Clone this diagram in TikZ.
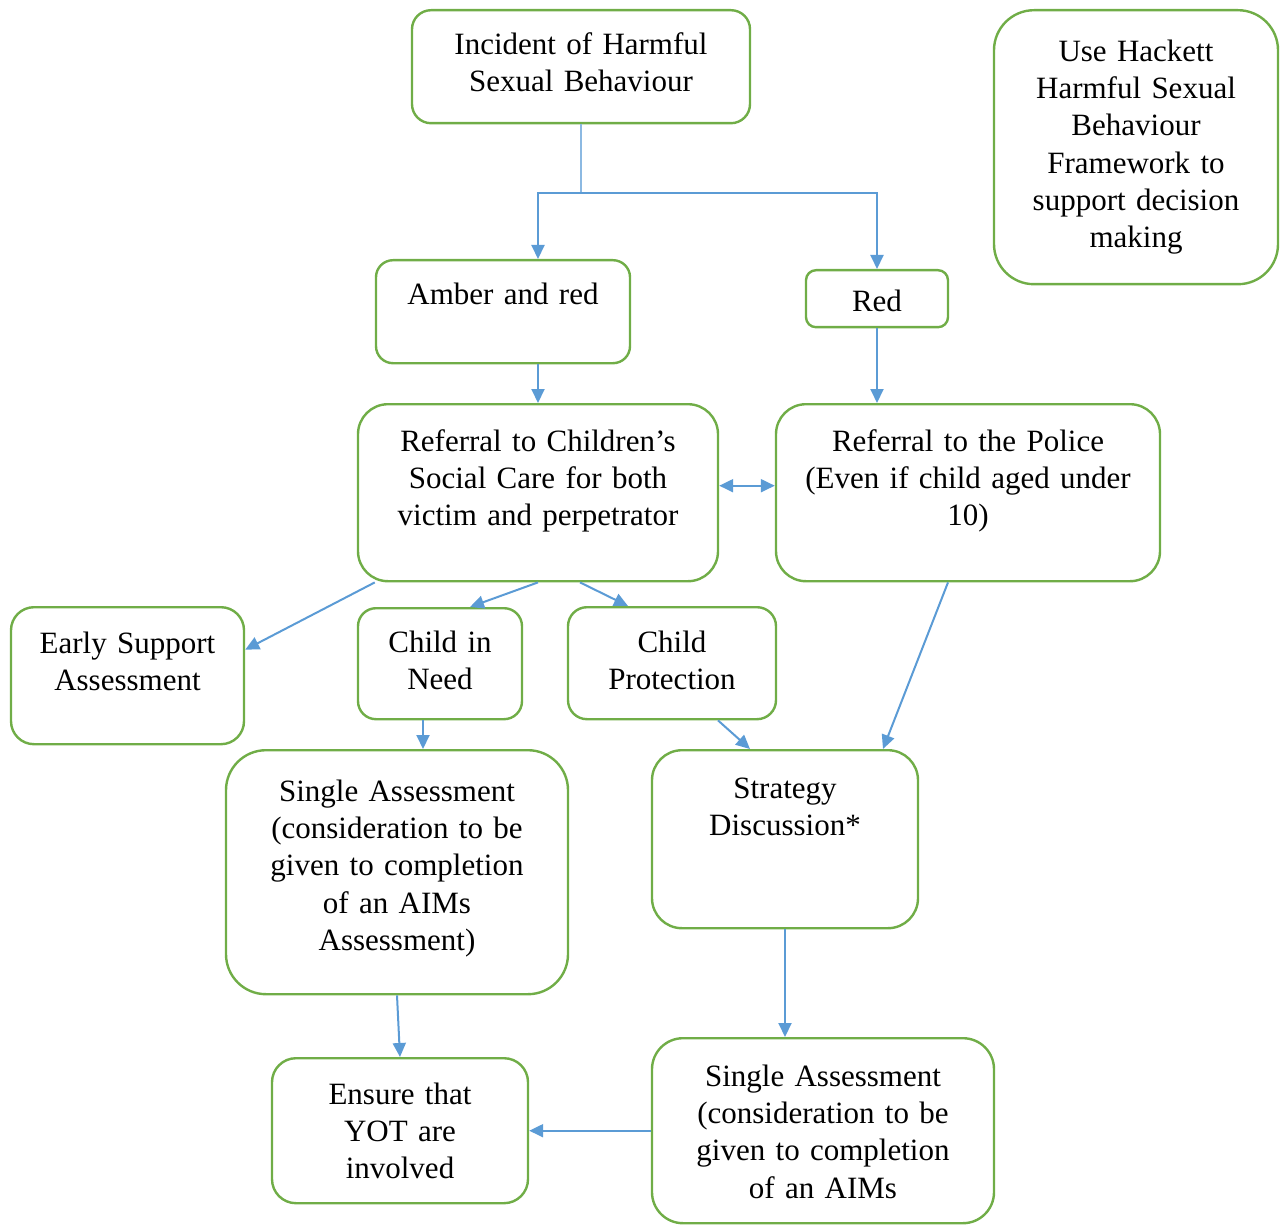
\documentclass[tikz,border=0pt]{standalone}
\usepackage{fontspec}
\setmainfont{Liberation Serif}
\usepackage{tikz}
\usetikzlibrary{arrows.meta,positioning,calc}
\usepackage{xcolor}
\definecolor{boxcolor}{RGB}{112,173,71}
\definecolor{linkcolor}{RGB}{91,155,213}

\begin{document}
\begin{tikzpicture}[
    x=0.5pt, y=-0.5pt,
    box/.style={draw=boxcolor, line width=1.2pt, inner sep=0pt, align=center, anchor=north, font=\fontsize{15.5}{18.65}\selectfont},
    arrow/.style={-{Triangle[length=7pt, width=6.5pt]}, draw=linkcolor, line width=1pt},
    link/.style={draw=linkcolor!70, line width=0.6pt}
]
\useasboundingbox (0,0) rectangle (1280,1225);

% Top row
\node[box, text width=169pt, text height=22pt, text depth=34.5pt, rounded corners=9.5pt] (incident) at (581,9) {Incident of Harmful\\Sexual Behaviour};
\node[box, text width=142pt, text height=25.5pt, text depth=111.5pt, rounded corners=20pt] (hackett) at (1136,9) {Use Hackett\\Harmful Sexual\\Behaviour\\Framework to\\support decision\\making};

% Grading
\node[box, text width=127pt, text height=22pt, text depth=29.5pt, rounded corners=8.5pt] (amber) at (503,259) {Amber and red};
\node[box, text width=71pt, text height=20.5pt, text depth=8pt, rounded corners=5pt] (red) at (877,269) {Red};

% Referrals
\node[box, text width=180pt, text height=23.5pt, text depth=65pt, rounded corners=15pt] (csc) at (538,403) {Referral to Children's\\Social Care for both\\victim and perpetrator};
\node[box, text width=192pt, text height=23.5pt, text depth=65pt, rounded corners=15pt] (police) at (968,403) {Referral to the Police\\(Even if child aged under\\10)};

% Outcomes
\node[box, text width=116.5pt, text height=23pt, text depth=45.5pt, rounded corners=11.5pt] (early) at (127.5,606) {Early Support\\Assessment};
\node[box, text width=82pt, text height=22pt, text depth=33.5pt, rounded corners=9pt] (cin) at (440,607) {Child in\\Need};
\node[box, text width=104pt, text height=22.5pt, text depth=33.5pt, rounded corners=9.5pt] (cp) at (672,606) {Child\\Protection};

% Assessments
\node[box, text width=171pt, text height=25.5pt, text depth=96.5pt, rounded corners=20pt] (sa1) at (397,749) {Single Assessment\\(consideration to be\\given to completion\\of an AIMs\\Assessment)};
\node[box, text width=133pt, text height=24pt, text depth=65pt, rounded corners=15pt] (strat) at (785,749) {Strategy\\Discussion*};
\node[box, text width=171pt, text height=24pt, text depth=68.5pt, rounded corners=15.5pt] (sa2) at (823,1037) {Single Assessment\\(consideration to be\\given to completion\\of an AIMs};
\node[box, text width=128pt, text height=23pt, text depth=49.5pt, rounded corners=12pt] (ensure) at (400,1057) {Ensure that\\YOT are\\involved};

% Connectors
\coordinate (split) at ([yshift=-34.5pt]incident.south);
\draw[link] (incident.south) -- (split);
\draw[arrow] (split) -| (csc.north |- amber.north);
\draw[arrow] (split) -| (red.north);
\draw[arrow] (csc.north |- amber.south) -- (csc.north);
\draw[arrow] (red.south) -- (red.south |- police.north);
\draw[arrow, {Triangle[length=7pt, width=6.5pt]}-{Triangle[length=7pt, width=6.5pt]}] ([yshift=3.5pt]csc.east) -- ([yshift=3.5pt]police.west);
\draw[arrow] ([xshift=9pt]csc.south west) -- ([yshift=13pt]early.east);
\draw[arrow] (csc.south) -- ([xshift=15pt]cin.north);
\draw[arrow] ([xshift=21pt]csc.south) -- ([xshift=-22pt]cp.north);
\draw[arrow] ([xshift=-8.5pt]cin.south) -- ([xshift=-8.5pt]cin.south |- sa1.north);
\draw[arrow] ([xshift=23pt]cp.south) -- ([xshift=-17.5pt]strat.north);
\draw[arrow] ([xshift=-10pt]police.south) -- ([xshift=49pt]strat.north);
\draw[arrow] (sa1.south) -- (ensure.north);
\draw[arrow] (strat.south) -- (strat.south |- sa2.north);
\draw[arrow] (sa2.west) -- (ensure.east);

\end{tikzpicture}
\end{document}
